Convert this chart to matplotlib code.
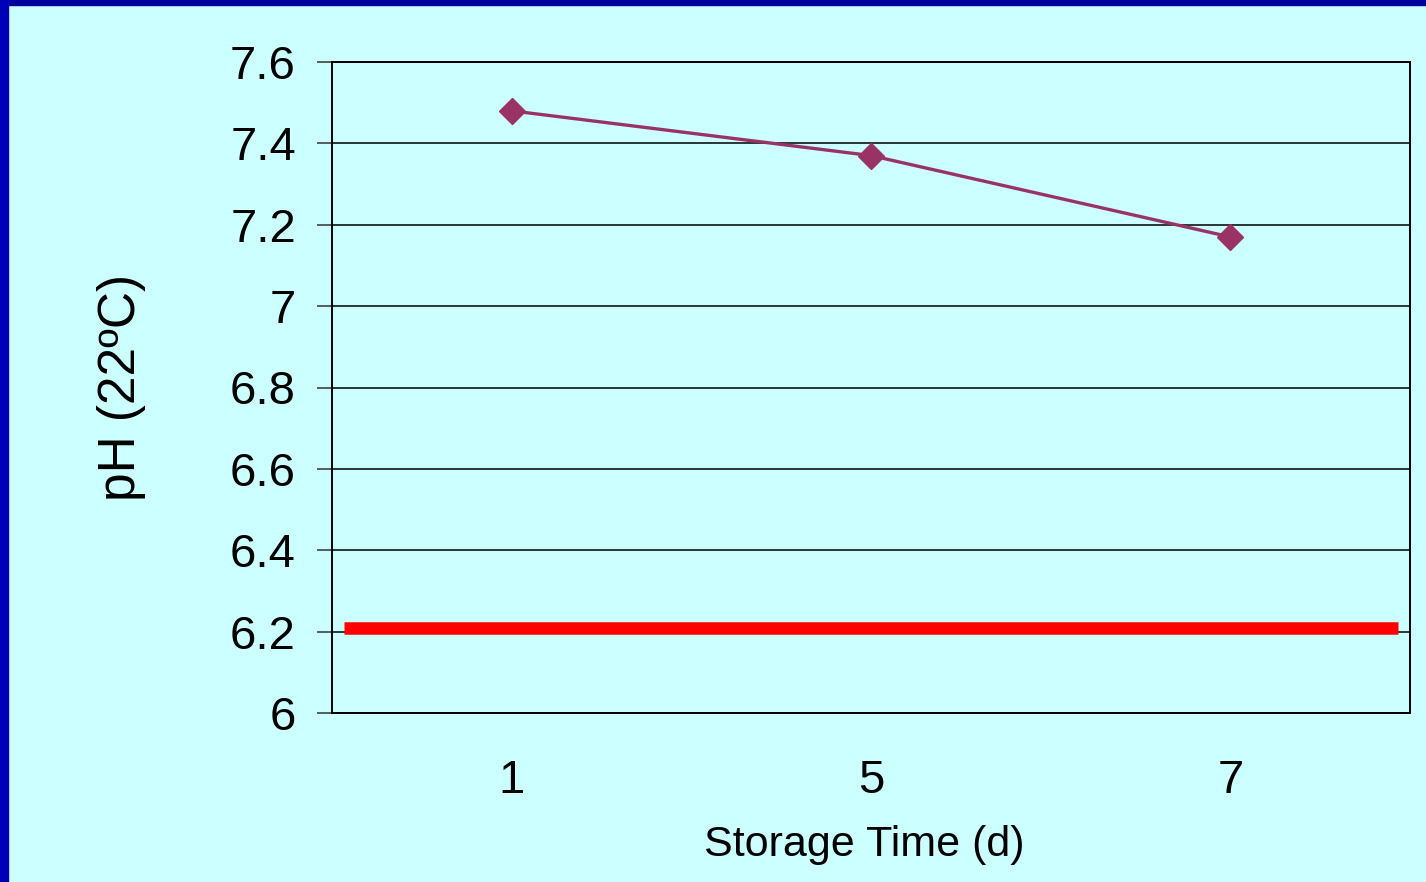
"""
pH vs storage time at 22 C, with 6.2 limit line
"""
import matplotlib
matplotlib.use('Agg')
import matplotlib.pyplot as plt
from matplotlib.patches import Rectangle

plt.rcParams['font.family'] = ['Liberation Sans', 'DejaVu Sans']

days = ['1', '5', '7']
ph_values = [7.48, 7.37, 7.17]
ph_limit = 6.21
y_ticks = [6, 6.2, 6.4, 6.6, 6.8, 7, 7.2, 7.4, 7.6]
y_tick_labels = ['6', '6.2', '6.4', '6.6', '6.8', '7', '7.2', '7.4', '7.6']

bg = '#CCFFFF'
fig = plt.figure(figsize=(14.26, 8.82), dpi=100, facecolor=bg)

# slide frame: dark blue strip on top and left
fig.patches.append(Rectangle((0, 1 - 5 / 882), 1, 5 / 882, transform=fig.transFigure,
                             color='#0000A0', zorder=0))
fig.patches.append(Rectangle((0, 0), 8 / 1426, 1, transform=fig.transFigure,
                             color='#0000B8', zorder=0))

ax = fig.add_axes([332 / 1426, 1 - 713 / 882, 1078 / 1426, 651 / 882])
ax.set_facecolor(bg)

x = list(range(len(days)))
ax.plot(x, ph_values, color='#993366', lw=2.4, marker='D', ms=13,
        markeredgecolor='#993366', zorder=4)
ax.axhline(ph_limit, xmin=0.0107, xmax=0.9893, color='#FF0000', lw=9,
           solid_capstyle='butt', zorder=3)

ax.set_xlim(-0.5, len(days) - 0.5)
ax.set_ylim(6, 7.6)
ax.set_xticks(x)
ax.set_xticklabels(days)
ax.set_yticks(y_ticks)
ax.set_yticklabels(y_tick_labels)

ax.grid(axis='y', color='black', lw=1.1)
ax.set_axisbelow(True)
for s in ax.spines.values():
    s.set_color('black')
    s.set_linewidth(1.4)

ax.tick_params(axis='y', length=11, width=1.1, color='#333333', pad=15, labelsize=34)
ax.tick_params(axis='x', length=0, pad=33, labelsize=34)

ax.set_xlabel('Storage Time (d)', fontsize=31, va='center')
ax.xaxis.set_label_coords(0.494, -0.203)
ax.set_ylabel('pH (22ºC)', fontsize=37, va='center')
ax.yaxis.set_label_coords(-0.195, 0.5)

plt.savefig('out.png', dpi=100, facecolor=bg)
